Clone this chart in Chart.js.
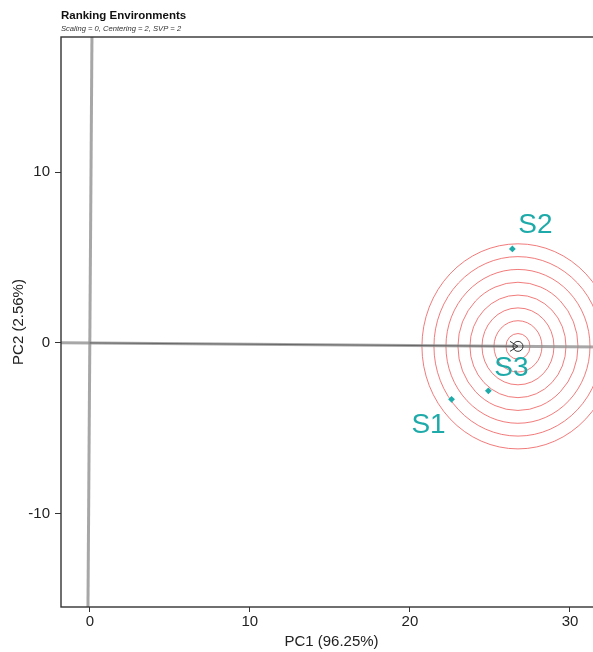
<!DOCTYPE html>
<html>
<head>
<meta charset="utf-8">
<script src="https://cdn.jsdelivr.net/npm/chart.js@4.4.0/dist/chart.umd.min.js"></script>
<style>
  html, body { margin: 0; padding: 0; overflow: hidden; background: #fff; }
  canvas { display: block; }
</style>
</head>
<body>
<canvas id="biplot" width="610" height="652"></canvas>
<script>
// Environment scores on the first two principal components
const envNames = ['S1', 'S2', 'S3'];
const pc1 = [22.6, 26.4, 24.9];
const pc2 = [-3.3, 5.5, -2.8];

// Ideal environment (centre of the concentric rings) and ring radii in PC units
const idealEnv = [26.75, -0.2];
const ringRadii = [0.75, 1.5, 2.25, 3.0, 3.75, 4.5, 5.25, 6.0];

// Axis set-up
const xTicks = [0, 10, 20, 30];
const yTicks = [-10, 0, 10];
const xRange = [-1.8, 32];
const yRange = [-15.45, 17.9];

const chartTitle = 'Ranking Environments';
const chartSubtitle = 'Scaling = 0, Centering = 2, SVP = 2';
const xTitle = 'PC1 (96.25%)';
const yTitle = 'PC2 (2.56%)';

const FONT = '"Liberation Sans", Arial, Helvetica, sans-serif';
const TEAL = '#1faaaa';

// Average-environment axis through the origin and the ideal environment
const slope = idealEnv[1] / idealEnv[0];
const aecAbscissa = [
  { x: xRange[0], y: xRange[0] * slope },
  { x: xRange[1], y: xRange[1] * slope }
];
// Perpendicular through the origin
const aecOrdinate = [
  { x: -yRange[1] * slope, y: yRange[1] },
  { x: -yRange[0] * slope, y: yRange[0] }
];
const aecArrow = [{ x: 0, y: 0 }, { x: idealEnv[0], y: idealEnv[1] }];

const envPoints = envNames.map((n, i) => ({ x: pc1[i], y: pc2[i], name: n }));

// Concentric rings around the ideal environment
const ringsPlugin = {
  id: 'rings',
  beforeDatasetsDraw(chart) {
    const { ctx, chartArea: a, scales: { x, y } } = chart;
    const cx = x.getPixelForValue(idealEnv[0]);
    const cy = y.getPixelForValue(idealEnv[1]);
    ctx.save();
    ctx.beginPath();
    ctx.rect(a.left, a.top, a.right - a.left, a.bottom - a.top);
    ctx.clip();
    ctx.strokeStyle = 'rgba(238, 90, 90, 0.8)';
    ctx.lineWidth = 1;
    ringRadii.forEach(r => {
      const rx = Math.abs(x.getPixelForValue(idealEnv[0] + r) - cx);
      const ry = Math.abs(y.getPixelForValue(idealEnv[1] + r) - cy);
      ctx.beginPath();
      ctx.ellipse(cx, cy, rx, ry, 0, 0, Math.PI * 2);
      ctx.stroke();
    });
    ctx.restore();
  }
};

// Frame, ideal-environment marker, labels and header text
const decorPlugin = {
  id: 'decor',
  afterDatasetsDraw(chart) {
    const { ctx, chartArea: a, scales: { x, y } } = chart;
    ctx.save();
    // marker at the ideal environment
    const cx = x.getPixelForValue(idealEnv[0]);
    const cy = y.getPixelForValue(idealEnv[1]);
    ctx.strokeStyle = '#333';
    ctx.lineWidth = 1;
    ctx.beginPath();
    ctx.arc(cx, cy, 5, 0, Math.PI * 2);
    ctx.stroke();
    ctx.beginPath();
    ctx.moveTo(cx - 8, cy - 5);
    ctx.lineTo(cx, cy);
    ctx.lineTo(cx - 8, cy + 5);
    ctx.stroke();

    // environment labels
    const offsets = { S1: [-23, 26], S2: [23, -24], S3: [23, -23] };
    ctx.fillStyle = TEAL;
    ctx.font = '28px ' + FONT;
    ctx.textAlign = 'center';
    ctx.textBaseline = 'middle';
    envPoints.forEach(p => {
      const o = offsets[p.name];
      ctx.fillText(p.name, x.getPixelForValue(p.x) + o[0], y.getPixelForValue(p.y) + o[1]);
    });

    // panel frame
    ctx.strokeStyle = '#333';
    ctx.lineWidth = 1.4;
    ctx.strokeRect(a.left, a.top, a.right - a.left, a.bottom - a.top);

    // header
    ctx.fillStyle = '#111';
    ctx.textAlign = 'left';
    ctx.textBaseline = 'alphabetic';
    ctx.font = 'bold 11.5px ' + FONT;
    ctx.fillText(chartTitle, a.left, 18.5);
    ctx.font = 'italic 7.6px ' + FONT;
    ctx.fillStyle = '#333';
    ctx.fillText(chartSubtitle, a.left, 31);
    ctx.restore();
  }
};

new Chart(document.getElementById('biplot'), {
  type: 'scatter',
  data: {
    datasets: [
      {
        label: 'Environments',
        data: envPoints,
        pointStyle: 'rectRot',
        pointRadius: 3.4,
        backgroundColor: TEAL,
        borderColor: TEAL,
        borderWidth: 0
      },
      {
        label: 'AEC arrow',
        data: aecArrow,
        showLine: true,
        borderColor: 'rgba(50,50,50,0.55)',
        borderWidth: 1,
        pointRadius: 0
      },
      {
        label: 'AEC abscissa',
        data: aecAbscissa,
        showLine: true,
        borderColor: 'rgba(145,145,145,0.8)',
        borderWidth: 3,
        pointRadius: 0
      },
      {
        label: 'AEC ordinate',
        data: aecOrdinate,
        showLine: true,
        borderColor: 'rgba(145,145,145,0.8)',
        borderWidth: 3,
        pointRadius: 0
      }
    ]
  },
  options: {
    responsive: false,
    animation: false,
    layout: { padding: { top: 37, right: 8, left: 0, bottom: 0 } },
    plugins: {
      legend: { display: false },
      tooltip: { enabled: false }
    },
    scales: {
      x: {
        type: 'linear',
        min: xRange[0],
        max: xRange[1],
        afterBuildTicks: s => { s.ticks = xTicks.map(v => ({ value: v })); },
        afterFit: s => { s.height = 45; },
        grid: { display: true, drawOnChartArea: false, drawTicks: true, tickLength: 5, color: '#333', lineWidth: 1 },
        border: { display: false },
        ticks: { color: '#222', font: { family: FONT, size: 15 }, padding: 1, maxRotation: 0 },
        title: { display: true, text: xTitle, color: '#222', font: { family: FONT, size: 15 }, padding: { top: 0, bottom: 1 } }
      },
      y: {
        type: 'linear',
        min: yRange[0],
        max: yRange[1],
        afterBuildTicks: s => { s.ticks = yTicks.map(v => ({ value: v })); },
        afterFit: s => { s.width = 61; },
        grid: { display: true, drawOnChartArea: false, drawTicks: true, tickLength: 6, color: '#333', lineWidth: 1 },
        border: { display: false },
        ticks: { color: '#222', font: { family: FONT, size: 15 }, padding: 5 },
        title: { display: true, text: yTitle, color: '#222', font: { family: FONT, size: 15 }, padding: { top: 10, bottom: 0 } }
      }
    }
  },
  plugins: [ringsPlugin, decorPlugin]
});
</script>
</body>
</html>
